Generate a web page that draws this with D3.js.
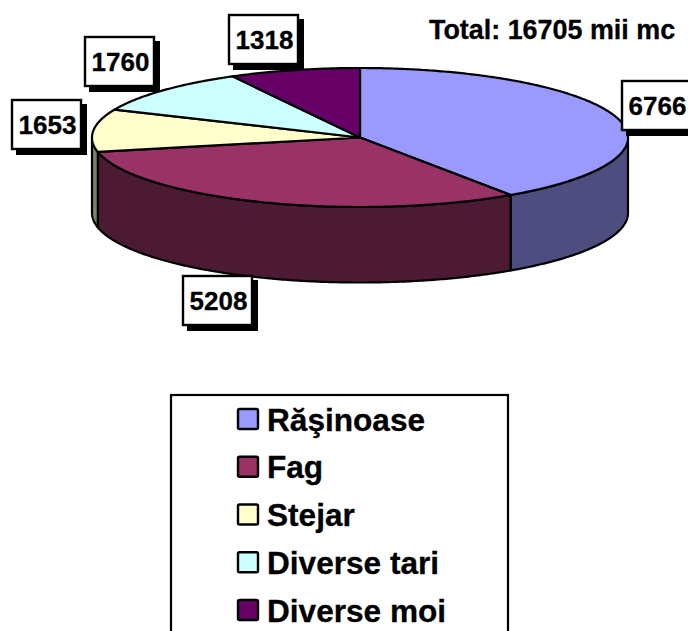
<!DOCTYPE html>
<html><head><meta charset="utf-8">
<style>html,body{margin:0;padding:0;background:#fff;overflow:hidden}svg{display:block}text{font-family:"Liberation Sans",Arial,sans-serif;font-weight:700;fill:#000;stroke:#000;stroke-width:.3}</style>
<script src="https://cdn.jsdelivr.net/npm/d3@7/dist/d3.min.js"></script>
</head><body>
<script>
const categories = ["Răşinoase","Fag","Stejar","Diverse tari","Diverse moi"];
const values = [6766,5208,1653,1760,1318];
const topColors = ["#9999FF","#993366","#FFFFCC","#CCFFFF","#660066"];
const sideColors = ["#4D4D80","#4D1A33","#808066","#668080","#330033"];
const totalLabel = "Total: 16705 mii mc";
// label box top-left corners (layout)
const labelBoxes = [[621,80],[182,275],[11,99],[84,36],[228,14]];

const W=688,H=631,cx=360,cy=137.5,rx=268,ry=69.5,depth=75.5;
const svg=d3.select("body").append("svg").attr("width",W).attr("height",H);
const pie=d3.pie().sort(null).value(d=>d)(values);
const px=a=>cx+rx*Math.sin(a), py=a=>cy-ry*Math.cos(a);
const line=d3.line();
const samples=(a0,a1)=>{const n=Math.max(2,Math.ceil((a1-a0)/0.01));return d3.range(n+1).map(i=>a0+(a1-a0)*i/n);};

// side walls, visible front half only
const hi=Math.PI/2, lo=3*Math.PI/2;
svg.append("g").selectAll("path").data(pie.map((d,i)=>({a0:Math.max(d.startAngle,hi),a1:Math.min(d.endAngle,lo),i})).filter(d=>d.a1>d.a0))
 .join("path")
 .attr("d",d=>{const s=samples(d.a0,d.a1);
   const t=s.map(a=>[px(a),py(a)]), b=s.slice().reverse().map(a=>[px(a),py(a)+depth]);
   return line(t.concat(b))+"Z";})
 .attr("fill",d=>sideColors[d.i]).attr("stroke","#000").attr("stroke-width",2.2).attr("stroke-linejoin","round");

// top wedges
svg.append("g").selectAll("path").data(pie).join("path")
 .attr("d",d=>line([[cx,cy]].concat(samples(d.startAngle,d.endAngle).map(a=>[px(a),py(a)])))+"Z")
 .attr("fill",(d,i)=>topColors[i]).attr("stroke","#000").attr("stroke-width",2.2).attr("stroke-linejoin","round");

// title
svg.append("text").attr("x",429).attr("y",39).attr("font-size",26.9).text(totalLabel);

// value labels
const bw=71,bh=51;
const lab=svg.append("g").selectAll("g").data(values).join("g").attr("transform",(d,i)=>`translate(${labelBoxes[i]})`);
lab.append("rect").attr("x",5).attr("y",5).attr("width",bw).attr("height",bh).attr("fill","#000");
lab.append("rect").attr("x",1).attr("y",1).attr("width",bw-2).attr("height",bh-2).attr("fill","#fff").attr("stroke","#000").attr("stroke-width",2.4);
lab.append("text").attr("x",bw/2+1).attr("y",35).attr("text-anchor","middle").attr("font-size",26).text(d=>d);

// legend
svg.append("rect").attr("x",171).attr("y",395).attr("width",337).attr("height",260).attr("fill","#fff").attr("stroke","#000").attr("stroke-width",2.2);
const rowY=d3.scalePoint().domain(categories).range([419,610]);
const leg=svg.append("g").selectAll("g").data(categories).join("g").attr("transform",d=>`translate(0,${rowY(d)})`);
leg.append("rect").attr("x",238).attr("y",-10).attr("width",20).attr("height",20).attr("rx",1.5).attr("fill",(d,i)=>topColors[i]).attr("stroke","#000").attr("stroke-width",2.4);
leg.append("text").attr("x",267).attr("y",11.5).attr("font-size",31.6).text(d=>d);
</script>
</body></html>
